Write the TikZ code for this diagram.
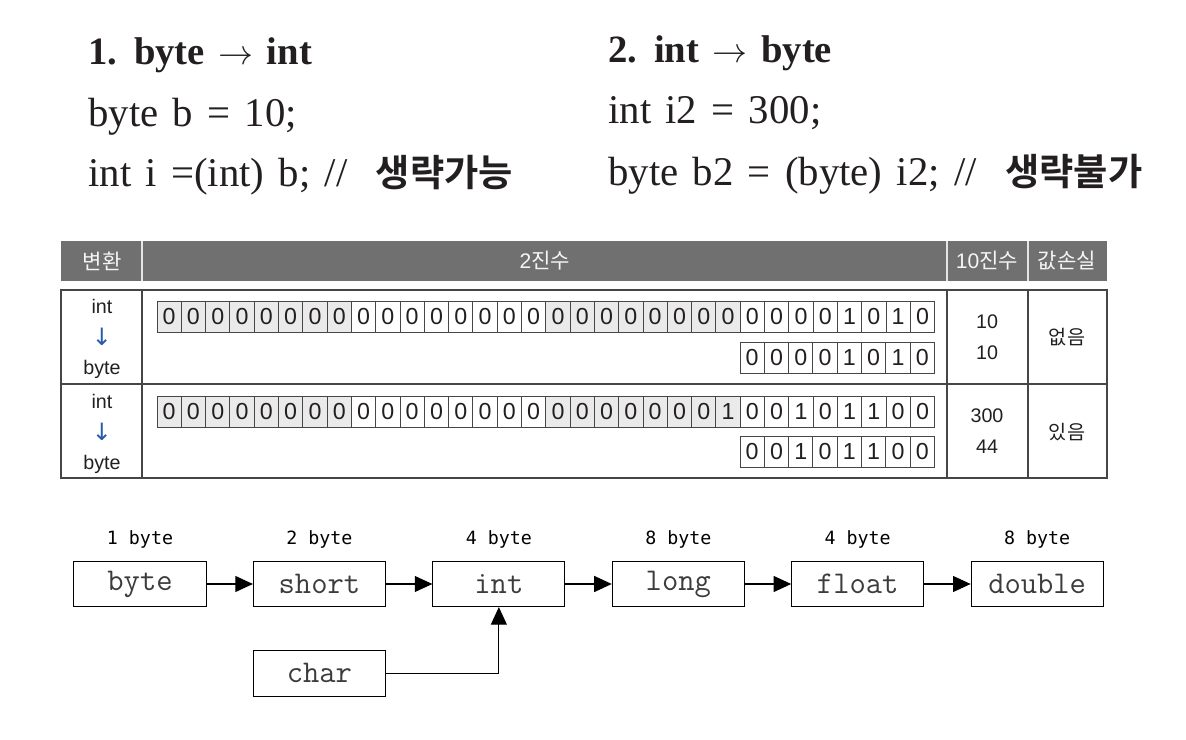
\documentclass[tikz,border=0pt]{standalone}
\usepackage{fontspec}
\setmainfont{Liberation Serif}
\setsansfont{Liberation Sans}
\newfontfamily\codefont[WordSpace=2.2]{Liberation Serif}
\newfontfamily\headfont[WordSpace=1.4]{Liberation Serif}
\newfontfamily\krfont[BoldFont={Noto Sans CJK KR Bold}]{Noto Sans CJK KR}
\newfontfamily\labelfont{DejaVu Sans Mono}
\newfontfamily\arrowfont{DejaVu Sans}
\usetikzlibrary{arrows.meta, positioning}
\definecolor{textdark}{RGB}{35,31,32}
\definecolor{boxtext}{RGB}{60,60,60}
\definecolor{headgray}{RGB}{112,112,112}
\definecolor{bitgray}{RGB}{234,234,234}
\definecolor{linegray}{RGB}{70,70,70}
\definecolor{arrowblue}{RGB}{40,90,170}

\begin{document}
\begin{tikzpicture}[
        x=0.025cm, y=-0.025cm,
        arr/.style={-{Triangle[length=0.44cm, width=0.4cm]}, line width=0.8pt},
        typebox/.style={draw, line width=0.7pt, minimum width=3.3cm,
                        minimum height=1.13cm, inner sep=0, text=boxtext,
                        font=\ttfamily\fontsize{22.5}{24}\selectfont},
        sizelabel/.style={inner sep=0, font=\labelfont\fontsize{13}{15}\selectfont},
        code/.style={anchor=base west, inner sep=0, text=textdark,
                     font=\codefont\fontsize{29}{34}\selectfont},
        headtxt/.style={inner sep=0, text=white!92!gray,
                        font=\sffamily\fontsize{15}{17}\selectfont},
        celltxt/.style={inner sep=0, text=textdark,
                        font=\sffamily\fontsize{14}{16}\selectfont},
        bit/.style={draw=linegray, line width=0.6pt},
        bittxt/.style={inner sep=0, text=textdark,
                       font=\sffamily\fontsize{16.5}{18}\selectfont},
        tline/.style={draw=linegray, line width=0.8pt}
      ]
        \useasboundingbox (0,0) rectangle (1186,740);

        % code lines
        \node[code, font=\headfont\bfseries\fontsize{27.5}{32}\selectfont] (sub1) at (88,65)
              {1. byte $\rightarrow$ int};
        \node[code] (decl1) at (88,127) {byte b = 10;};
        \node[code] (cast1) at (88,187)
              {int i =(int) b; // \hspace{0.35em}{\krfont\bfseries\fontsize{26.5}{30}\selectfont 생략가능}};
        \node[code, font=\headfont\bfseries\fontsize{27.5}{32}\selectfont] (sub2) at (608,63)
              {2. int $\rightarrow$ byte};
        \node[code] (decl2) at (608,124) {int i2 = 300;};
        \node[code] (cast2) at (608,186)
              {byte b2 = (byte) i2; // \hspace{0.35em}{\krfont\bfseries\fontsize{26.5}{30}\selectfont 생략불가}};

        % table header
        \fill[headgray] (61,241) rectangle (1107,281);
        \foreach \xc in {142,947,1028}
          \draw[white!80!gray, line width=0.8pt] (\xc,241) -- (\xc,281);
        \node[headtxt] (hconv) at (102,261) {\krfont 변환};
        \node[headtxt] (hbin) at (545,261) {2{\krfont 진수}};
        \node[headtxt] (hdec) at (987,261) {10{\krfont 진수}};
        \node[headtxt] (hloss) at (1067,261) {\krfont 값손실};

        % table body
        \draw[tline] (61,290) rectangle (1107,478);
        \draw[tline] (61,384) -- (1107,384);
        \foreach \xc in {142,947,1028}
          \draw[tline] (\xc,290) -- (\xc,478);

        \node[celltxt] (from1) at (102,306) {int};
        \node[celltxt, text=arrowblue] (down1) at (102,337) {\arrowfont\fontsize{17}{18}\selectfont ↓};
        \node[celltxt] (to1) at (102,369) {byte};
        \node[celltxt] (from2) at (102,401) {int};
        \node[celltxt, text=arrowblue] (down2) at (102,432) {\arrowfont\fontsize{17}{18}\selectfont ↓};
        \node[celltxt] (to2) at (102,464) {byte};

        % bits, int
        \foreach \b [count=\i from 0] in
          {0,0,0,0,0,0,0,0,0,0,0,0,0,0,0,0,0,0,0,0,0,0,0,0,0,0,0,0,1,0,1,0} {
          \pgfmathtruncatemacro\grp{mod(floor(\i/8),2)}
          \ifnum\grp=0 \def\cellfill{bitgray}\else\def\cellfill{white}\fi
          \draw[bit, fill=\cellfill] (157+\i*24.3,301) rectangle ++(24.3,31);
          \node[bittxt] (ra\i) at (169.15+\i*24.3,316.5) {\b};
        }
        \foreach \b [count=\i from 0] in
          {0,0,0,0,0,0,0,0,0,0,0,0,0,0,0,0,0,0,0,0,0,0,0,1,0,0,1,0,1,1,0,0} {
          \pgfmathtruncatemacro\grp{mod(floor(\i/8),2)}
          \ifnum\grp=0 \def\cellfill{bitgray}\else\def\cellfill{white}\fi
          \draw[bit, fill=\cellfill] (157+\i*24.3,396) rectangle ++(24.3,31);
          \node[bittxt] (rb\i) at (169.15+\i*24.3,411.5) {\b};
        }
        % bits, byte
        \foreach \b [count=\i from 0] in {0,0,0,0,1,0,1,0} {
          \draw[bit, fill=white] (740+\i*24.3,342) rectangle ++(24.3,31);
          \node[bittxt] (sa\i) at (752.15+\i*24.3,357.5) {\b};
        }
        \foreach \b [count=\i from 0] in {0,0,1,0,1,1,0,0} {
          \draw[bit, fill=white] (740+\i*24.3,436) rectangle ++(24.3,31);
          \node[bittxt] (sb\i) at (752.15+\i*24.3,451.5) {\b};
        }

        \node[celltxt] (dec1) at (987,322) {10};
        \node[celltxt] (dec2) at (987,353) {10};
        \node[celltxt] (dec3) at (987,416) {300};
        \node[celltxt] (dec4) at (987,447) {44};
        \node[celltxt] (loss1) at (1067,337) {\krfont 없음};
        \node[celltxt] (loss2) at (1067,432) {\krfont 있음};

        % widening chain
        \node[typebox] (byte) at (140,584) {byte};
        \node[typebox, right=1.16cm of byte] (short) {short};
        \node[typebox, right=1.16cm of short] (int) {int};
        \node[typebox, right=1.16cm of int] (long) {long};
        \node[typebox, right=1.16cm of long] (float) {float};
        \node[typebox, right=1.16cm of float] (double) {double};
        \node[typebox, below=1.08cm of short] (char) {char};

        \node[sizelabel, above=0.3cm of byte] (sz1) {1 byte};
        \node[sizelabel, above=0.3cm of short] (sz2) {2 byte};
        \node[sizelabel, above=0.3cm of int] (sz3) {4 byte};
        \node[sizelabel, above=0.3cm of long] (sz4) {8 byte};
        \node[sizelabel, above=0.3cm of float] (sz5) {4 byte};
        \node[sizelabel, above=0.3cm of double] (sz6) {8 byte};

        \draw[arr] (byte) -- (short);
        \draw[arr] (short) -- (int);
        \draw[arr] (int) -- (long);
        \draw[arr] (long) -- (float);
        \draw[arr] (float) -- (double);
        \draw[arr] (char.east) -| (int.south);
      \end{tikzpicture}
\end{document}
